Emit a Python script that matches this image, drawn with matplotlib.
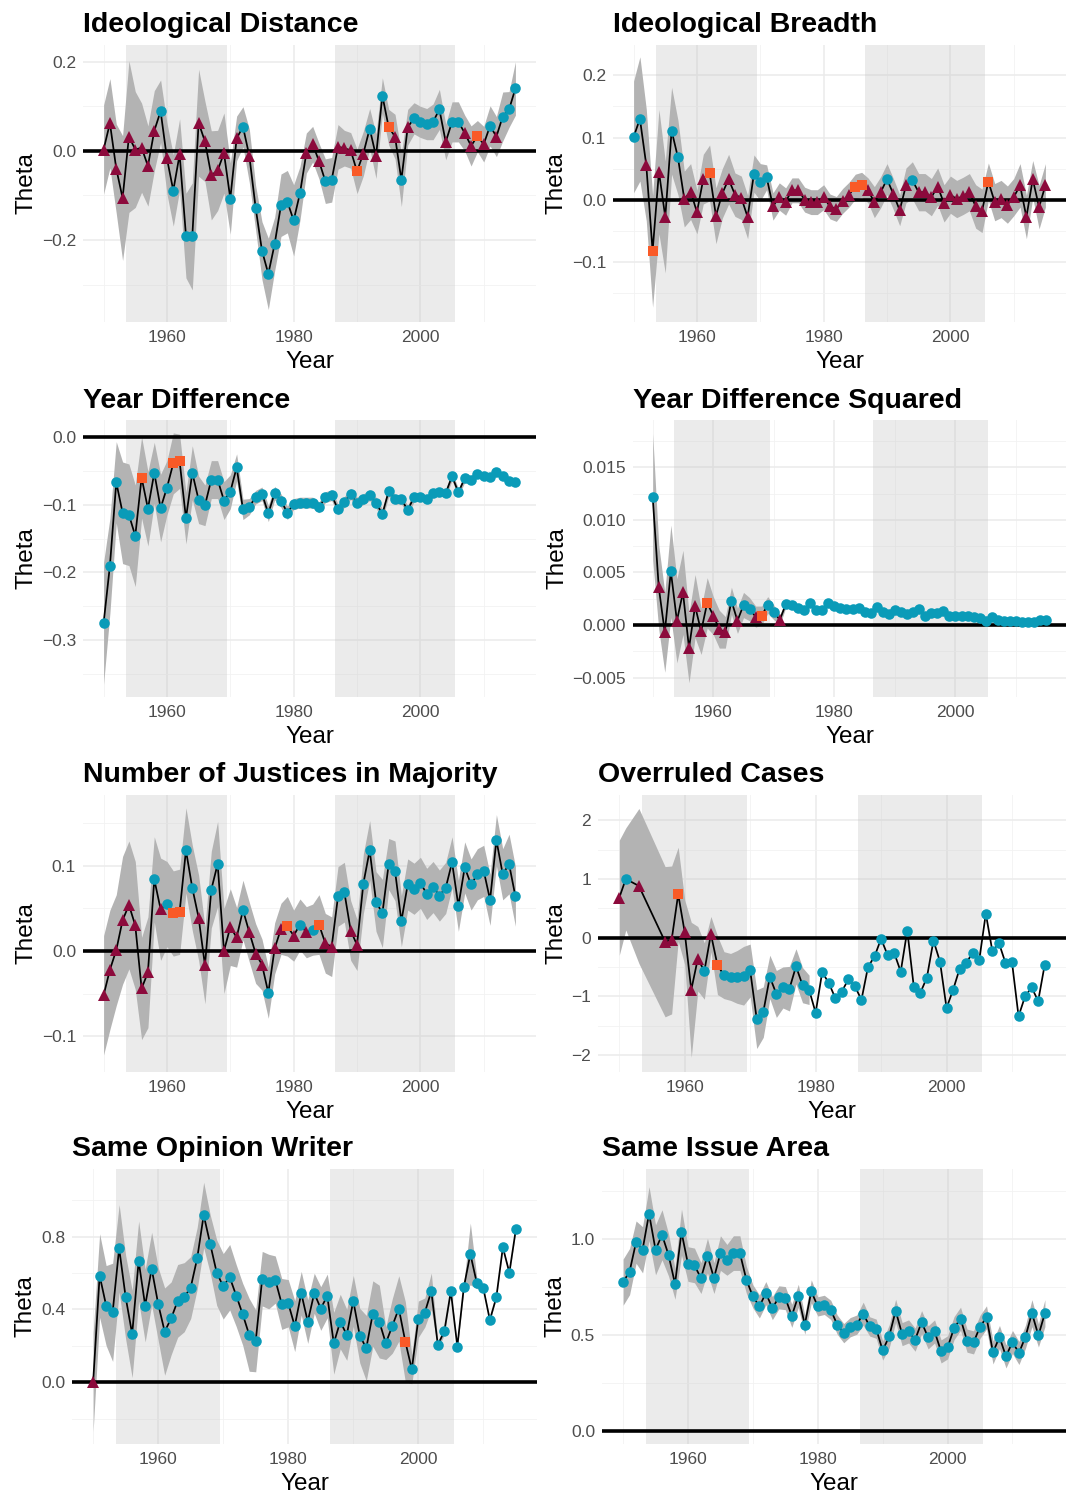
import matplotlib.pyplot as plt
import numpy as np
from matplotlib.ticker import FixedLocator, FuncFormatter

plt.rcParams['font.family'] = ['Liberation Sans', 'DejaVu Sans']

years = np.arange(1950, 2016)

# point types per year: c = circle (teal), t = triangle (maroon), s = square (orange), - = no estimate
titles = ['Ideological Distance', 'Ideological Breadth', 'Year Difference',
          'Year Difference Squared', 'Number of Justices in Majority',
          'Overruled Cases', 'Same Opinion Writer', 'Same Issue Area']

# Ideological Distance
dist_theta = [0.003, 0.062, -0.040, -0.106, 0.032, 0.003, 0.007, -0.034, 0.045, 0.089,
              -0.017, -0.089, -0.008, -0.190, -0.192, 0.063, 0.021, -0.055, -0.044, -0.005,
              -0.107, 0.028, 0.054, -0.011, -0.128, -0.224, -0.276, -0.209, -0.122, -0.114,
              -0.156, -0.095, -0.005, 0.015, -0.023, -0.068, -0.065, 0.009, 0.006, 0.001,
              -0.046, -0.006, 0.050, -0.012, 0.124, 0.053, 0.032, -0.065, 0.053, 0.073,
              0.065, 0.060, 0.065, 0.093, 0.020, 0.065, 0.065, 0.040, 0.011, 0.033,
              0.015, 0.056, 0.032, 0.077, 0.093, 0.140]
dist_hw = [0.10, 0.10, 0.10, 0.14, 0.17, 0.13, 0.10, 0.09, 0.09, 0.07,
           0.08, 0.08, 0.08, 0.095, 0.12, 0.12, 0.09, 0.10, 0.09, 0.09,
           0.08, 0.05, 0.045, 0.06, 0.05, 0.065, 0.08, 0.06, 0.07, 0.07,
           0.08, 0.06, 0.045, 0.04, 0.04, 0.05, 0.05, 0.05, 0.04, 0.04,
           0.05, 0.05, 0.045, 0.05, 0.04, 0.04, 0.05, 0.06, 0.04, 0.035,
           0.035, 0.035, 0.04, 0.045, 0.04, 0.045, 0.045, 0.04, 0.045, 0.035,
           0.04, 0.045, 0.045, 0.055, 0.04, 0.06]
dist_type = 'tttttttttc' + 'tctccttttt' + 'ctctcccccc' + 'cctttccttt' + 'stctcstctc' + 'cccctcctts' + 'tctccc'

# Ideological Breadth
breadth_theta = [0.101, 0.130, 0.056, -0.083, 0.045, -0.028, 0.111, 0.068, 0.001, 0.013,
                 -0.020, 0.033, 0.043, -0.026, 0.010, 0.033, 0.008, 0.003, -0.028, 0.042,
                 0.028, 0.036, -0.011, 0.005, -0.003, 0.015, 0.015, 0.000, -0.004, -0.004,
                 0.004, -0.011, -0.015, -0.002, 0.008, 0.021, 0.024, 0.015, -0.004, 0.012,
                 0.033, 0.009, -0.017, 0.023, 0.031, 0.012, 0.012, 0.004, 0.021, -0.006,
                 0.008, 0.001, 0.006, 0.012, -0.011, -0.018, 0.029, -0.004, 0.001, -0.008,
                 0.004, 0.023, -0.028, 0.033, -0.012, 0.023]
breadth_hw = [0.09, 0.10, 0.09, 0.09, 0.10, 0.09, 0.07, 0.06, 0.045, 0.045,
              0.035, 0.04, 0.045, 0.045, 0.04, 0.04, 0.035, 0.035, 0.035, 0.03,
              0.03, 0.02, 0.022, 0.022, 0.022, 0.02, 0.02, 0.02, 0.02, 0.02,
              0.02, 0.02, 0.02, 0.02, 0.02, 0.02, 0.02, 0.02, 0.025, 0.025,
              0.025, 0.025, 0.025, 0.028, 0.03, 0.03, 0.03, 0.03, 0.03, 0.03,
              0.03, 0.03, 0.03, 0.03, 0.035, 0.035, 0.03, 0.03, 0.03, 0.03,
              0.03, 0.035, 0.035, 0.03, 0.035, 0.035]
breadth_type = 'cctsttcctt' + 'ttsttttttc' + 'cctttttttt' + 'tttttssttt' + 'ctttcttttt' + 'ttttttsttt' + 'tttttt'

# Year Difference
ydiff_theta = [-0.275, -0.190, -0.067, -0.112, -0.115, -0.146, -0.060, -0.106, -0.053, -0.105,
               -0.075, -0.039, -0.036, -0.120, -0.053, -0.093, -0.101, -0.063, -0.063, -0.094,
               -0.081, -0.045, -0.107, -0.103, -0.089, -0.084, -0.113, -0.083, -0.094, -0.112,
               -0.099, -0.097, -0.097, -0.097, -0.104, -0.089, -0.086, -0.107, -0.096, -0.084,
               -0.097, -0.092, -0.086, -0.097, -0.114, -0.080, -0.092, -0.092, -0.108, -0.089,
               -0.088, -0.092, -0.083, -0.081, -0.083, -0.058, -0.082, -0.061, -0.063, -0.054,
               -0.058, -0.059, -0.052, -0.058, -0.065, -0.066]
ydiff_hw = [0.09, 0.07, 0.06, 0.075, 0.075, 0.075, 0.06, 0.055, 0.045, 0.05,
            0.04, 0.045, 0.04, 0.038, 0.04, 0.035, 0.03, 0.028, 0.028, 0.028,
            0.025, 0.02, 0.015, 0.012, 0.01, 0.01, 0.012, 0.01, 0.01, 0.01,
            0.008, 0.008, 0.008, 0.008, 0.008, 0.008, 0.008, 0.008, 0.008, 0.008,
            0.008, 0.008, 0.008, 0.008, 0.008, 0.008, 0.007, 0.007, 0.007, 0.007,
            0.006, 0.006, 0.006, 0.006, 0.006, 0.006, 0.006, 0.006, 0.006, 0.006,
            0.005, 0.005, 0.005, 0.005, 0.005, 0.005]
ydiff_type = 'ccccccsccc' + 'cssccccccc' + 'c' * 46

# Year Difference Squared
ydiff2_theta = [0.0122, 0.0036, -0.0007, 0.0051, 0.0004, 0.0031, -0.0022, 0.0018, -0.0006, 0.0021,
                0.0009, -0.0004, -0.0007, 0.0023, 0.0004, 0.0019, 0.0015, 0.0008, 0.0009, 0.0019,
                0.0012, 0.0005, 0.0020, 0.0019, 0.0016, 0.0014, 0.0021, 0.0014, 0.0014, 0.0021,
                0.0018, 0.0016, 0.0015, 0.0015, 0.0016, 0.0012, 0.0011, 0.0017, 0.0012, 0.0010,
                0.0014, 0.0012, 0.0010, 0.0012, 0.0015, 0.0009, 0.0011, 0.0011, 0.0013, 0.0009,
                0.0009, 0.0009, 0.0009, 0.0008, 0.0007, 0.0004, 0.0008, 0.0005, 0.0004, 0.0004,
                0.0004, 0.0003, 0.0003, 0.0003, 0.0005, 0.0005]
ydiff2_hw = [0.006, 0.004, 0.0038, 0.0044, 0.004, 0.004, 0.0033, 0.003, 0.0022, 0.0024,
             0.0018, 0.0018, 0.0015, 0.0013, 0.0012, 0.0012, 0.0011, 0.001, 0.0009, 0.0008,
             0.0007, 0.0005, 0.0003, 0.0003, 0.0003, 0.0003, 0.0003, 0.0003, 0.0003, 0.0003,
             0.0002, 0.0002, 0.0002, 0.0002, 0.0002, 0.0002, 0.0002, 0.0002, 0.0002, 0.0002,
             0.0002, 0.0002, 0.0002, 0.0002, 0.0002, 0.0002, 0.0002, 0.0002, 0.0002, 0.0002,
             0.0002, 0.0002, 0.0002, 0.0002, 0.0002, 0.0002, 0.0002, 0.0002, 0.0002, 0.0002,
             0.0002, 0.0002, 0.0002, 0.0002, 0.0002, 0.0002]
ydiff2_type = 'cttcttttts' + 'tttctcctsc' + 'ctcccccccc' + 'c' * 36

# Number of Justices in Majority
njust_theta = [-0.052, -0.022, 0.001, 0.036, 0.054, 0.030, -0.044, -0.025, 0.084, 0.049,
               0.055, 0.044, 0.046, 0.118, 0.074, 0.039, -0.017, 0.072, 0.102, 0.000,
               0.028, 0.016, 0.048, 0.022, -0.003, -0.016, -0.049, 0.003, 0.026, 0.029,
               0.018, 0.031, 0.022, 0.025, 0.031, 0.009, 0.005, 0.064, 0.069, 0.024,
               0.007, 0.079, 0.118, 0.058, 0.044, 0.102, 0.094, 0.035, 0.078, 0.073,
               0.080, 0.067, 0.075, 0.065, 0.074, 0.104, 0.053, 0.098, 0.078, 0.090,
               0.094, 0.060, 0.130, 0.090, 0.102, 0.064]
njust_hw = [0.07, 0.07, 0.065, 0.075, 0.075, 0.075, 0.06, 0.065, 0.05, 0.06,
            0.05, 0.05, 0.05, 0.05, 0.05, 0.05, 0.045, 0.045, 0.05, 0.05,
            0.045, 0.035, 0.035, 0.035, 0.035, 0.03, 0.03, 0.03, 0.03, 0.035,
            0.03, 0.03, 0.03, 0.03, 0.035, 0.035, 0.035, 0.035, 0.035, 0.035,
            0.03, 0.035, 0.035, 0.035, 0.04, 0.03, 0.035, 0.03, 0.03, 0.03,
            0.03, 0.03, 0.03, 0.03, 0.03, 0.03, 0.03, 0.03, 0.03, 0.03,
            0.03, 0.03, 0.03, 0.03, 0.035, 0.035]
njust_type = 'ttttttttct' + 'cssccttcct' + 'ttctttctts' + 'tctcsttcct' + 'tccccccccc' + 'c' * 16

# Overruled Cases (no estimate for 1952, 1954-1956; no interval after 1979)
nan = np.nan
overr_theta = [0.68, 1.00, nan, 0.88, nan, nan, nan, -0.07, -0.04, 0.74,
               0.09, -0.89, -0.36, -0.57, 0.06, -0.47, -0.64, -0.67, -0.67, -0.65,
               -0.56, -1.39, -1.27, -0.67, -0.96, -0.85, -0.87, -0.49, -0.81, -0.89,
               -1.28, -0.59, -0.77, -1.03, -0.92, -0.71, -0.83, -1.06, -0.50, -0.32,
               -0.02, -0.30, -0.26, -0.58, 0.12, -0.84, -0.94, -0.68, -0.05, -0.41,
               -1.20, -0.89, -0.53, -0.43, -0.26, -0.38, 0.41, -0.23, -0.09, -0.43,
               -0.42, -1.34, -1.00, -0.85, -1.08, -0.46]
overr_hw = [0.98, 0.87, nan, 1.32, nan, nan, nan, 1.28, 1.26, 0.80,
            0.55, 1.15, 0.55, 0.48, 0.30, 0.50, 0.40, 0.40, 0.45, 0.50,
            0.45, 0.50, 0.43, 0.37, 0.40, 0.35, 0.38, 0.30, 0.30, 0.25] + [nan] * 36
overr_type = 'tc-t---tts' + 'tttctscccc' + 'c' * 46

# Same Opinion Writer
writer_theta = [0.000, 0.586, 0.421, 0.384, 0.736, 0.467, 0.265, 0.666, 0.421, 0.624,
                0.430, 0.278, 0.351, 0.447, 0.467, 0.520, 0.681, 0.919, 0.760, 0.602,
                0.527, 0.577, 0.476, 0.373, 0.260, 0.227, 0.569, 0.553, 0.564, 0.430,
                0.434, 0.308, 0.489, 0.333, 0.489, 0.405, 0.474, 0.214, 0.333, 0.260,
                0.447, 0.256, 0.187, 0.377, 0.333, 0.214, 0.309, 0.405, 0.223, 0.071,
                0.346, 0.383, 0.500, 0.205, 0.280, 0.500, 0.196, 0.522, 0.705, 0.544,
                0.516, 0.342, 0.467, 0.741, 0.602, 0.840]
writer_hw = [0.27, 0.23, 0.22, 0.27, 0.24, 0.23, 0.24, 0.22, 0.20, 0.20,
             0.20, 0.24, 0.20, 0.20, 0.19, 0.17, 0.17, 0.18, 0.16, 0.18,
             0.18, 0.18, 0.17, 0.17, 0.20, 0.17, 0.15, 0.15, 0.13, 0.14,
             0.13, 0.14, 0.12, 0.12, 0.11, 0.12, 0.12, 0.17, 0.15, 0.14,
             0.14, 0.15, 0.18, 0.18, 0.20, 0.09, 0.15, 0.18, 0.22, 0.08,
             0.10, 0.08, 0.10, 0.02, 0.02, 0.01, 0.01, 0.02, 0.17, 0.03,
             0.005, 0.005, 0.005, 0.005, 0.005, 0.005]
writer_type = 't' + 'c' * 47 + 's' + 'c' * 17

# Same Issue Area
issue_theta = [0.775, 0.830, 0.983, 0.943, 1.131, 0.943, 1.021, 0.917, 0.766, 1.035,
               0.869, 0.862, 0.796, 0.913, 0.796, 0.926, 0.891, 0.926, 0.926, 0.787,
               0.701, 0.649, 0.718, 0.640, 0.696, 0.692, 0.600, 0.704, 0.554, 0.727,
               0.649, 0.657, 0.631, 0.554, 0.510, 0.541, 0.554, 0.611, 0.545, 0.533,
               0.420, 0.493, 0.626, 0.505, 0.519, 0.476, 0.567, 0.488, 0.519, 0.415,
               0.436, 0.536, 0.585, 0.471, 0.462, 0.543, 0.592, 0.410, 0.490, 0.389,
               0.464, 0.407, 0.491, 0.614, 0.498, 0.614]
issue_hw = [0.12, 0.12, 0.11, 0.12, 0.14, 0.13, 0.13, 0.11, 0.08, 0.12,
            0.09, 0.09, 0.08, 0.09, 0.08, 0.09, 0.08, 0.09, 0.09, 0.07,
            0.06, 0.06, 0.06, 0.06, 0.06, 0.06, 0.06, 0.06, 0.05, 0.06,
            0.05, 0.05, 0.05, 0.05, 0.05, 0.05, 0.05, 0.06, 0.05, 0.05,
            0.05, 0.06, 0.06, 0.06, 0.06, 0.06, 0.06, 0.06, 0.06, 0.06,
            0.06, 0.06, 0.06, 0.06, 0.06, 0.06, 0.06, 0.06, 0.06, 0.06,
            0.06, 0.06, 0.06, 0.07, 0.06, 0.07]
issue_type = 'c' * 66

thetas = [dist_theta, breadth_theta, ydiff_theta, ydiff2_theta, njust_theta, overr_theta, writer_theta, issue_theta]
hws = [dist_hw, breadth_hw, ydiff_hw, ydiff2_hw, njust_hw, overr_hw, writer_hw, issue_hw]
types = [dist_type, breadth_type, ydiff_type, ydiff2_type, njust_type, overr_type, writer_type, issue_type]

# court eras shaded
eras = [(1953.5, 1969.45), (1986.45, 2005.45)]

# layout (pixels: left, right, top, bottom), y limits, y ticks, decimals
boxes = [(83, 536, 45, 322), (613, 1066, 45, 322),
         (83, 536, 420, 697), (633, 1066, 420, 697),
         (83, 536, 795, 1072), (598, 1066, 795, 1072),
         (72, 537, 1169, 1444), (602, 1066, 1169, 1444)]
ylims = [(-0.384, 0.2375), (-0.197, 0.249), (-0.384, 0.025), (-0.00685, 0.0195),
         (-0.142, 0.183), (-2.29, 2.43), (-0.34, 1.172), (-0.066, 1.363)]
yticks = [[-0.2, 0.0, 0.2], [-0.1, 0.0, 0.1, 0.2], [-0.3, -0.2, -0.1, 0.0],
          [-0.005, 0.0, 0.005, 0.010, 0.015], [-0.1, 0.0, 0.1], [-2, -1, 0, 1, 2],
          [0.0, 0.4, 0.8], [0.0, 0.5, 1.0]]
ydec = [1, 1, 1, 3, 1, 0, 1, 1]

markers = {'c': ('o', '#0A9BB8', 7.6), 't': ('^', '#8C0A3C', 9.0), 's': ('s', '#F95A27', 6.8)}

W, H = 1071, 1499
fig = plt.figure(figsize=(W / 100, H / 100), dpi=100)

for i in range(8):
    l, r, t, b = boxes[i]
    ax = fig.add_axes([l / W, 1 - b / H, (r - l) / W, (b - t) / H])
    th = np.array(thetas[i], dtype=float)
    hw = np.array(hws[i], dtype=float)
    tp = np.array(list(types[i]))
    ok = ~np.isnan(th)
    x = years[ok]
    th = th[ok]
    hw = hw[ok]
    tp = tp[ok]

    for a, e in eras:
        ax.axvspan(a, e, color='#c8c8c8', alpha=0.36, lw=0, zorder=1)
    ax.fill_between(x, th - hw, th + hw, color='#B3B3B3', lw=0, zorder=2)
    ax.axhline(0, color='black', lw=2.6, zorder=3)
    ax.plot(x, th, color='black', lw=1.25, zorder=4)
    for k in markers:
        m, c, s = markers[k]
        sel = tp == k
        ax.plot(x[sel], th[sel], ls='none', marker=m, color=c, ms=s, mew=0, zorder=5)

    ax.set_xlim(1946.75, 2018.25)
    ax.set_ylim(*ylims[i])
    ax.xaxis.set_major_locator(FixedLocator([1960, 1980, 2000]))
    ax.xaxis.set_minor_locator(FixedLocator([1950, 1970, 1990, 2010]))
    yt = yticks[i]
    step = yt[1] - yt[0]
    ax.yaxis.set_major_locator(FixedLocator(yt))
    ax.yaxis.set_minor_locator(FixedLocator(np.arange(yt[0] - 1.5 * step, yt[-1] + 2 * step, step)))
    d = ydec[i]
    ax.yaxis.set_major_formatter(FuncFormatter(lambda v, p, d=d: ('%.*f' % (d, v)).replace('-', '\u2212')))
    ax.set_axisbelow(True)
    ax.grid(which='major', color='#EBEBEB', lw=1.1)
    ax.grid(which='minor', color='#F2F2F2', lw=0.6)
    for sp in ax.spines.values():
        sp.set_visible(False)
    ax.tick_params(which='both', length=0, labelsize=12.5, labelcolor='#4D4D4D')
    ax.tick_params(axis='y', pad=5)
    ax.tick_params(axis='x', pad=6)
    ax.set_xlabel('Year', fontsize=17.5, labelpad=4)
    ax.set_ylabel('Theta', fontsize=17.5, labelpad=3)
    ax.set_title(titles[i], loc='left', fontsize=20.5, fontweight='bold', pad=9)

plt.savefig('out.png', dpi=100)
